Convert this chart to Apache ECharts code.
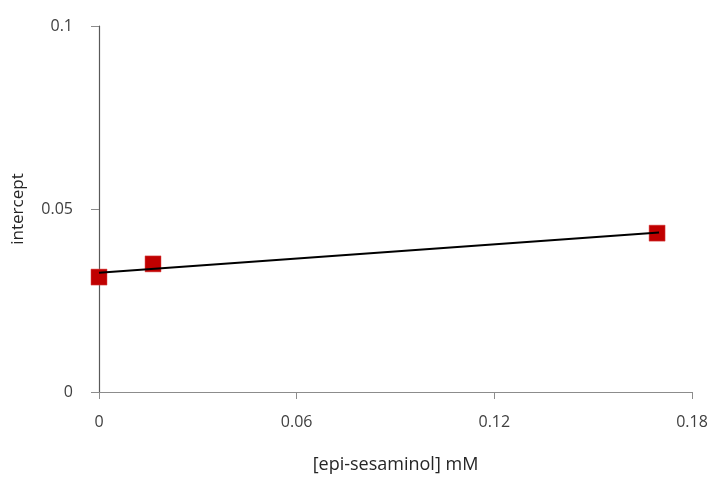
<!DOCTYPE html>
<html>
<head>
<meta charset="utf-8">
<script src="https://cdn.jsdelivr.net/npm/echarts@6/dist/echarts.min.js"></script>
<style>
  html, body { margin: 0; padding: 0; background: #fff; }
  #chart { width: 709px; height: 478px; }
</style>
</head>
<body>
<div id="chart"></div>
<script>
// Measured intercepts against epi-sesaminol concentration
const concentrations = [0, 0.0164, 0.1694];
const intercepts = [0.0314, 0.0350, 0.0434];
const xTicks = [0, 0.06, 0.12, 0.18];
const yTicks = [0, 0.05, 0.1];

// Least-squares trend line through the measured points
function linearFit(xs, ys) {
  const n = xs.length;
  const mx = xs.reduce((a, b) => a + b, 0) / n;
  const my = ys.reduce((a, b) => a + b, 0) / n;
  let sxy = 0, sxx = 0;
  for (let i = 0; i < n; i++) {
    sxy += (xs[i] - mx) * (ys[i] - my);
    sxx += (xs[i] - mx) * (xs[i] - mx);
  }
  const slope = sxy / sxx;
  return { slope, intercept: my - slope * mx };
}
const fit = linearFit(concentrations, intercepts);
const trendEndX = 0.170;
const trend = [
  [0, fit.intercept],
  [trendEndX, fit.intercept + fit.slope * trendEndX]
];

const fontFamily = '"Open Sans", "Noto Sans", sans-serif';
const chart = echarts.init(document.getElementById('chart'), null, { renderer: 'canvas' });
chart.setOption({
  animation: false,
  backgroundColor: '#ffffff',
  grid: { left: 99, right: 17, top: 26, bottom: 86, containLabel: false, outerBoundsMode: 'none' },
  xAxis: {
    type: 'value',
    min: xTicks[0],
    max: xTicks[xTicks.length - 1],
    interval: 0.06,
    name: '[epi-sesaminol] mM',
    nameLocation: 'middle',
    nameGap: 64,
    nameTextStyle: { color: '#262626', fontSize: 18, fontFamily },
    axisLine: { show: true, onZero: false, lineStyle: { color: '#8c8c8c', width: 1.2 } },
    axisTick: { show: true, inside: false, length: 7, lineStyle: { color: '#8c8c8c' } },
    axisLabel: { color: '#404040', fontSize: 16, fontFamily, margin: 22,
      formatter: v => String(+v.toFixed(2)) },
    splitLine: { show: false }
  },
  yAxis: {
    type: 'value',
    min: yTicks[0],
    max: yTicks[yTicks.length - 1],
    interval: 0.05,
    name: 'intercept',
    nameLocation: 'middle',
    nameGap: 72,
    nameTextStyle: { color: '#262626', fontSize: 17, fontFamily },
    axisLine: { show: true, onZero: false, lineStyle: { color: '#595959', width: 1.2 } },
    axisTick: { show: true, inside: false, length: 8, lineStyle: { color: '#8c8c8c' } },
    axisLabel: { color: '#404040', fontSize: 16, fontFamily, margin: 26,
      formatter: v => String(+v.toFixed(2)) },
    splitLine: { show: false }
  },
  series: [
    {
      type: 'line',
      data: trend,
      symbol: 'none',
      lineStyle: { color: '#000000', width: 2 },
      z: 3
    },
    {
      type: 'scatter',
      data: concentrations.map((x, i) => [x, intercepts[i]]),
      symbol: 'rect',
      symbolSize: 16,
      itemStyle: { color: '#c00000', opacity: 1, borderColor: '#d84a4a', borderWidth: 0.5 },
      z: 2
    }
  ]
});
</script>
</body>
</html>
